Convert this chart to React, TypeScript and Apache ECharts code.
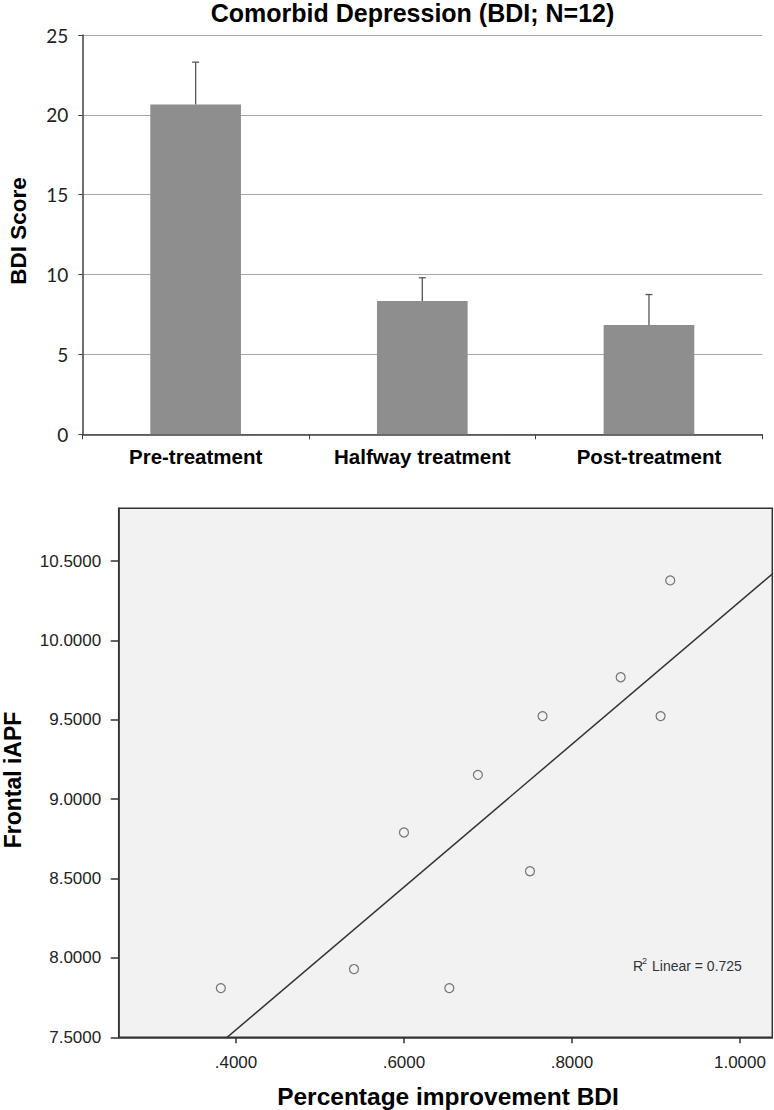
import React, { useEffect, useRef } from "react";
import * as echarts from "echarts";

// ---- Top chart data (BDI score by phase) ----
const categories = ["Pre-treatment", "Halfway treatment", "Post-treatment"];
const bdiMeans = [20.65, 8.35, 6.85];
const bdiUpper = [23.3, 9.8, 8.75];
const bdiTicks = [0, 5, 10, 15, 20, 25];

// ---- Bottom chart data (scatter) ----
const improvementBDI = [0.382, 0.5405, 0.6, 0.654, 0.688, 0.75, 0.765, 0.858, 0.9055, 0.917];
const frontalIAPF = [7.81, 7.93, 8.79, 7.81, 9.153, 8.546, 9.523, 9.768, 9.523, 10.378];
const xTickValues = [0.4, 0.6, 0.8, 1.0];
const yTickValues = [7.5, 8.0, 8.5, 9.0, 9.5, 10.0, 10.5];
const r2Text = "0.725";

const ARIAL = "'Liberation Sans', Arial, Helvetica, sans-serif";

function linearFit(xs: number[], ys: number[]) {
  const n = xs.length;
  const mx = xs.reduce((a, b) => a + b, 0) / n;
  const my = ys.reduce((a, b) => a + b, 0) / n;
  let sxy = 0;
  let sxx = 0;
  for (let i = 0; i < n; i++) {
    sxy += (xs[i] - mx) * (ys[i] - my);
    sxx += (xs[i] - mx) * (xs[i] - mx);
  }
  const slope = sxy / sxx;
  return { slope, intercept: my - slope * mx };
}

export default function App() {
  const ref = useRef<HTMLDivElement>(null);

  useEffect(() => {
    document.body.style.margin = "0";
    if (!ref.current) return;
    const chart = echarts.init(ref.current, undefined, { renderer: "svg", width: 774, height: 1110 });

    const xMin2 = 0.2604;
    const xMax2 = 1.0385;
    const fit = linearFit(improvementBDI, frontalIAPF);
    const fitLine = [
      [xMin2, fit.intercept + fit.slope * xMin2],
      [xMax2, fit.intercept + fit.slope * xMax2],
    ];

    const option: any = {
      animation: false,
      backgroundColor: "#ffffff",
      grid: [
        { left: 82.3, top: 35, width: 680, height: 399.3, containLabel: false },
        {
          left: 118.7,
          top: 508.3,
          width: 653.6,
          height: 529,
          show: true,
          backgroundColor: "#f2f2f2",
          borderColor: "#333333",
          borderWidth: 1.5,
          containLabel: false,
        },
      ],
      xAxis: [
        {
          gridIndex: 0,
          type: "category",
          data: categories,
          boundaryGap: true,
          axisLine: { show: true, lineStyle: { color: "#404040", width: 1.5 } },
          axisTick: { show: true, alignWithLabel: false, interval: 0, length: 5, lineStyle: { color: "#404040", width: 1 } },
          axisLabel: {
            interval: 0,
            margin: 12,
            color: "#000000",
            fontFamily: ARIAL,
            fontWeight: "bold",
            fontSize: 20.5,
          },
          splitLine: { show: false },
        },
        {
          gridIndex: 1,
          type: "value",
          min: xMin2,
          max: xMax2,
          axisLine: { show: true, onZero: false, lineStyle: { color: "#333333", width: 1.5 } },
          axisTick: { show: true, customValues: xTickValues, length: 6, lineStyle: { color: "#333333", width: 1.5 } },
          axisLabel: {
            customValues: xTickValues,
            margin: 17,
            color: "#222222",
            fontFamily: ARIAL,
            fontSize: 17,
            formatter: (v: number) => (v < 1 ? v.toFixed(4).replace(/^0/, "") : v.toFixed(4)),
          },
          splitLine: { show: false },
        },
      ],
      yAxis: [
        {
          gridIndex: 0,
          type: "value",
          min: bdiTicks[0],
          max: bdiTicks[bdiTicks.length - 1],
          interval: bdiTicks[1] - bdiTicks[0],
          axisLine: { show: true, lineStyle: { color: "#404040", width: 1.5 } },
          axisTick: { show: true, length: 4, lineStyle: { color: "#404040", width: 1 } },
          axisLabel: {
            margin: 14,
            color: "#222222",
            fontFamily: "Lato, 'Open Sans', sans-serif",
            fontSize: 19,
          },
          splitLine: { show: true, lineStyle: { color: "#a8a8a8", width: 1 } },
        },
        {
          gridIndex: 1,
          type: "value",
          min: 7.5,
          max: 10.832,
          axisLine: { show: true, onZero: false, lineStyle: { color: "#333333", width: 1.5 } },
          axisTick: { show: true, customValues: yTickValues, length: 8, lineStyle: { color: "#333333", width: 1.5 } },
          axisLabel: {
            customValues: yTickValues,
            margin: 17.5,
            color: "#222222",
            fontFamily: ARIAL,
            fontSize: 17,
            formatter: (v: number) => v.toFixed(4),
          },
          splitLine: { show: false },
        },
      ],
      series: [
        {
          type: "bar",
          xAxisIndex: 0,
          yAxisIndex: 0,
          data: bdiMeans,
          barWidth: "40%",
          itemStyle: { color: "#8e8e8e" },
          z: 2,
        },
        {
          type: "custom",
          xAxisIndex: 0,
          yAxisIndex: 0,
          data: categories.map((_, i) => [i, bdiMeans[i], bdiUpper[i]]),
          encode: { x: 0, y: [1, 2] },
          z: 3,
          renderItem: (_params: any, api: any) => {
            const idx = api.value(0);
            const lo = api.coord([idx, api.value(1)]);
            const hi = api.coord([idx, api.value(2)]);
            const st = { stroke: "#555555", lineWidth: 1.3 };
            return {
              type: "group",
              children: [
                { type: "line", shape: { x1: lo[0], y1: lo[1], x2: hi[0], y2: hi[1] }, style: st },
                { type: "line", shape: { x1: hi[0] - 3.5, y1: hi[1], x2: hi[0] + 3.5, y2: hi[1] }, style: st },
              ],
            };
          },
        },
        {
          type: "line",
          xAxisIndex: 1,
          yAxisIndex: 1,
          data: fitLine,
          showSymbol: false,
          symbol: "none",
          clip: true,
          lineStyle: { color: "#333333", width: 1.5 },
          z: 2,
        },
        {
          type: "scatter",
          xAxisIndex: 1,
          yAxisIndex: 1,
          data: improvementBDI.map((x, i) => [x, frontalIAPF[i]]),
          symbol: "circle",
          symbolSize: 9,
          itemStyle: { color: "rgba(0,0,0,0)", borderColor: "#555555", borderWidth: 1.2 },
          z: 3,
        },
      ],
      graphic: [
        {
          type: "text",
          x: 412.5,
          y: 13,
          style: {
            text: "Comorbid Depression (BDI; N=12)",
            fontFamily: ARIAL,
            fontWeight: "bold",
            fontSize: 25,
            fill: "#000000",
            textAlign: "center",
            textVerticalAlign: "middle",
          },
        },
        {
          type: "text",
          x: 18.5,
          y: 231,
          rotation: Math.PI / 2,
          style: {
            text: "BDI Score",
            fontFamily: ARIAL,
            fontWeight: "bold",
            fontSize: 22.5,
            fill: "#000000",
            textAlign: "center",
            textVerticalAlign: "middle",
          },
        },
        {
          type: "text",
          x: 448,
          y: 1096,
          style: {
            text: "Percentage improvement BDI",
            fontFamily: ARIAL,
            fontWeight: "bold",
            fontSize: 24.5,
            fill: "#000000",
            textAlign: "center",
            textVerticalAlign: "middle",
          },
        },
        {
          type: "text",
          x: 12.5,
          y: 780,
          rotation: Math.PI / 2,
          style: {
            text: "Frontal iAPF",
            fontFamily: ARIAL,
            fontWeight: "bold",
            fontSize: 23,
            fill: "#000000",
            textAlign: "center",
            textVerticalAlign: "middle",
          },
        },
        {
          type: "text",
          x: 633,
          y: 966,
          style: {
            text: "R",
            fontFamily: ARIAL,
            fontSize: 14,
            fill: "#333333",
            textAlign: "left",
            textVerticalAlign: "middle",
          },
        },
        {
          type: "text",
          x: 642,
          y: 961,
          style: {
            text: "2",
            fontFamily: ARIAL,
            fontSize: 9,
            fill: "#333333",
            textAlign: "left",
            textVerticalAlign: "middle",
          },
        },
        {
          type: "text",
          x: 652,
          y: 966,
          style: {
            text: "Linear = " + r2Text,
            fontFamily: ARIAL,
            fontSize: 14,
            fill: "#333333",
            textAlign: "left",
            textVerticalAlign: "middle",
          },
        },
      ],
    };

    chart.setOption(option);
    return () => {
      chart.dispose();
    };
  }, []);

  return <div ref={ref} style={{ width: 774, height: 1110 }} />;
}
